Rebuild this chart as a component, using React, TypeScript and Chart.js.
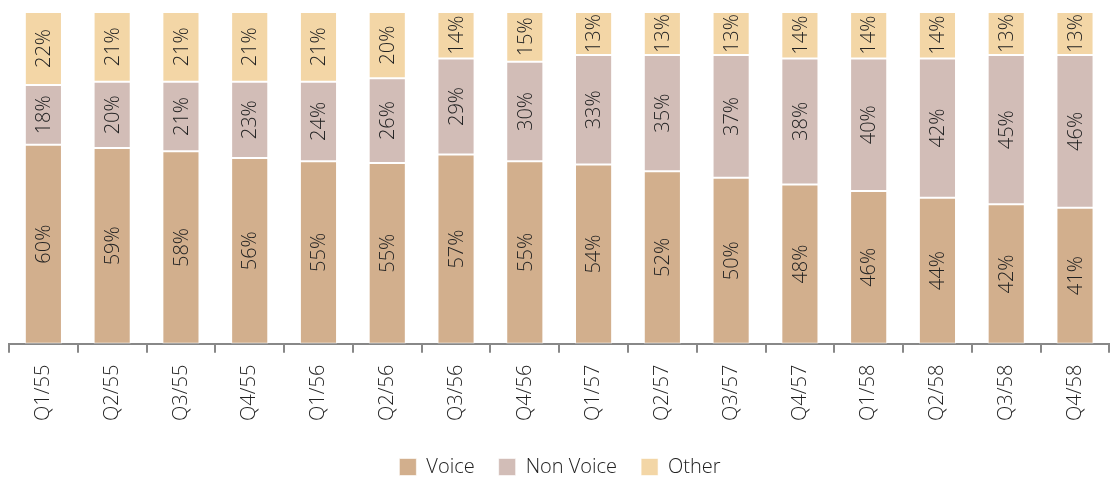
import React, { useEffect, useRef } from "react";
import { Chart, registerables } from "chart.js";

Chart.register(...registerables);

const categories = ["Q1/55","Q2/55","Q3/55","Q4/55","Q1/56","Q2/56","Q3/56","Q4/56","Q1/57","Q2/57","Q3/57","Q4/57","Q1/58","Q2/58","Q3/58","Q4/58"];
const voice = [60,59,58,56,55,54.5,57,55,54,52,50,48,46,44,42,41];
const nonVoice = [18,20,21,23,24,25.5,29,30,33,35,37,38,40,42,45,46];
const other = [22,21,21,21,21,20,14,15,13,13,13,14,14,14,13,13];
const seriesNames = ["Voice", "Non Voice", "Other"];
const seriesColors = ["#D2AF8D", "#D2BDB7", "#F3D6A6"];

const FONT = "'Open Sans', 'Noto Sans', sans-serif";

const labelPlugin = {
  id: "barLabels",
  afterDatasetsDraw(chart: any) {
    const ctx = chart.ctx;
    ctx.save();
    ctx.font = `300 20px ${FONT}`;
    ctx.fillStyle = "#222";
    ctx.textAlign = "center";
    ctx.textBaseline = "middle";
    chart.data.datasets.forEach((ds: any, i: number) => {
      const meta = chart.getDatasetMeta(i);
      meta.data.forEach((el: any, j: number) => {
        const v = Math.round(ds.data[j]);
        const cy = (el.y + el.base) / 2;
        ctx.save();
        ctx.translate(el.x, cy);
        ctx.rotate(-Math.PI / 2);
        ctx.fillText(v + "%", 0, 1);
        ctx.restore();
      });
    });
    ctx.restore();
  },
};

export default function App() {
  const ref = useRef<HTMLCanvasElement>(null);
  useEffect(() => {
    document.body.style.margin = "0";
    const chart = new Chart(ref.current!, {
      type: "bar",
      data: {
        labels: categories,
        datasets: [voice, nonVoice, other].map((d, i) => ({
          label: seriesNames[i],
          data: d,
          backgroundColor: seriesColors[i],
          borderColor: "rgba(255,255,255,0.6)",
          borderWidth: 1,
          borderSkipped: false,
          barPercentage: 0.54,
          categoryPercentage: 1,
        })),
      },
      options: {
        animation: false,
        responsive: false,
        maintainAspectRatio: false,
        layout: { padding: { top: 12, left: 9, right: 0, bottom: -7 } },
        plugins: {
          tooltip: { enabled: false },
          legend: {
            position: "bottom",
            labels: {
              boxWidth: 17,
              boxHeight: 17,
              padding: 24,
              color: "#222",
              font: { size: 20, family: FONT, weight: "300" },
            },
          },
        },
        scales: {
          x: {
            stacked: true,
            border: { display: true, color: "#888", width: 2 },
            grid: {
              display: true,
              drawOnChartArea: false,
              drawTicks: true,
              tickLength: 9,
              color: "#888",
              lineWidth: 2,
              offset: true,
            },
            ticks: {
              minRotation: 90,
              maxRotation: 90,
              color: "#222",
              font: { size: 20, family: FONT, weight: "300" },
              padding: 12,
            },
          },
          y: {
            stacked: true,
            display: false,
            min: 0,
            max: 100,
          },
        },
      },
      plugins: [labelPlugin],
    });
    return () => chart.destroy();
  }, []);
  return <canvas ref={ref} width={1111} height={480} style={{ display: "block" }} />;
}
